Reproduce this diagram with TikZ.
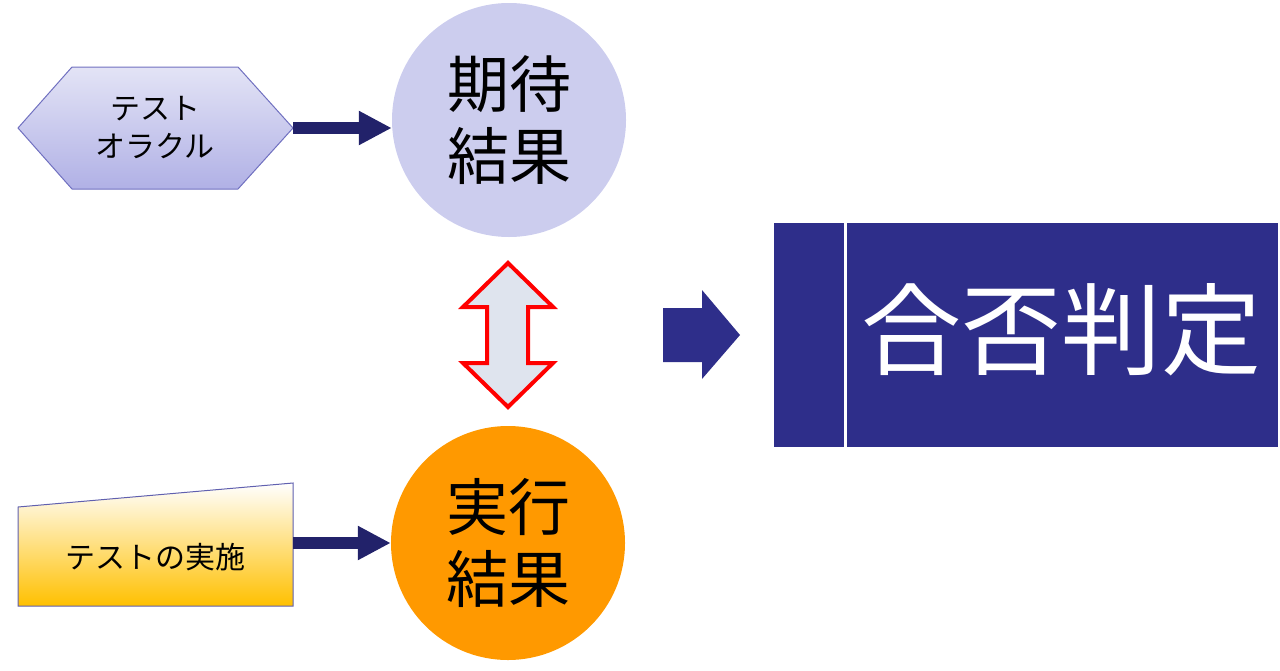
\documentclass[tikz,border=0pt]{standalone}
\usepackage{fontspec}
\setmainfont{Noto Sans CJK JP}
\usetikzlibrary{arrows.meta}

\definecolor{navy}{HTML}{22226A}
\definecolor{judgeblue}{HTML}{2E2E8A}
\definecolor{lavender}{HTML}{CCCDEE}
\definecolor{hexline}{HTML}{7070C0}
\definecolor{orangefill}{HTML}{FF9900}
\definecolor{goldfill}{HTML}{FFC000}
\definecolor{dblfill}{HTML}{DFE4EE}

\tikzset{
  result/.style={circle,minimum size=234pt,inner sep=0pt,align=center,
    font=\fontsize{62}{72}\selectfont},
  smalltext/.style={align=center,font=\fontsize{30}{38}\selectfont},
  thickarrow/.style={navy,line width=12pt,-{Triangle[length=33pt,width=32pt]}},
}

\begin{document}
\begin{tikzpicture}[x=1pt,y=-1pt]
  \useasboundingbox (0,0) rectangle (1280,670);
  % hexagon and trapezoid
  \draw[hexline,line width=1pt,top color=lavender!55!white,bottom color=lavender!70!blue!40!hexline!60]
    (18,128) -- (72,67) -- (238,67) -- (293,128) -- (238,189) -- (72,189) -- cycle;
  \draw[hexline!80!navy,line width=1pt,top color=white,bottom color=goldfill]
    (18,507) -- (293,483) -- (293,606) -- (18,606) -- cycle;
  \node[smalltext] (oracle) at (155,128) {テスト\\オラクル};
  \node[smalltext] (run) at (155,557) {テストの実施};
  \coordinate (oracleR) at (293,128);
  \coordinate (runR) at (293,543);
  % results
  \node[result,fill=lavender] (expected) at (509,120) {期待\\結果};
  \node[result,fill=orangefill] (actual) at (508,543) {実行\\結果};
  \draw[thickarrow] (oracleR) -- (oracleR -| expected.west);
  \draw[thickarrow] (runR) -- (runR -| actual.west);
  % compare
  \draw[red,line width=4pt,fill=dblfill,line join=miter]
    (508,263) -- (553,307) -- (528,307) -- (528,363) -- (553,363) -- (508,407)
    -- (463,363) -- (487,363) -- (487,307) -- (463,307) -- cycle;
  \fill[judgeblue] (663,308) -- (702,308) -- (702,290) -- (740,335)
    -- (702,379) -- (702,362) -- (663,362) -- cycle;
  % judgement
  \fill[judgeblue] (774,223) rectangle (1278,447);
  \draw[white,line width=3pt] (845,223) -- (845,447);
  \node[white,font=\fontsize{100}{100}\selectfont] (judge) at (1061,330) {合否判定};
\end{tikzpicture}
\end{document}
